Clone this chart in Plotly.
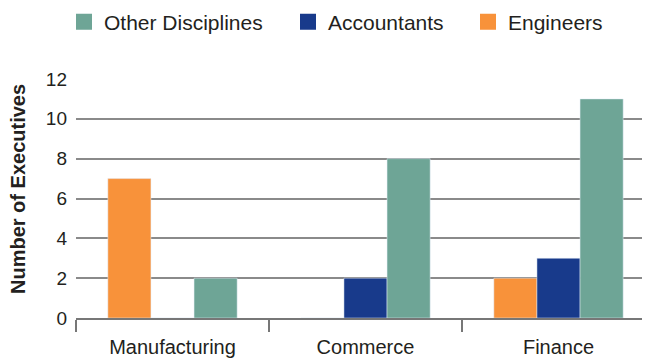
import plotly.graph_objects as go

categories = ["Manufacturing", "Commerce", "Finance"]
engineers = [7, 0, 2]
accountants = [0, 2, 3]
other = [2, 8, 11]
y_ticks = [0, 2, 4, 6, 8, 10, 12]

FONT = "Liberation Sans, Arial, sans-serif"
TXT = "#231f20"
C_ENG, C_ACC, C_OTH = "#F8923A", "#183A8B", "#6EA596"

fig = go.Figure()
series = [("Engineers", engineers, C_ENG, "legend3"),
          ("Accountants", accountants, C_ACC, "legend2"),
          ("Other Disciplines", other, C_OTH, "legend")]
for name, vals, col, lg in series:
    fig.add_trace(go.Bar(name=name, x=categories, y=vals, marker_color=col,
                         showlegend=False, legendgroup=name))
for name, vals, col, lg in series:
    # legend swatch only (larger square than the default bar swatch)
    fig.add_trace(go.Scatter(name=name, x=[None], y=[None], mode="markers",
                             marker=dict(symbol="square", size=16, color=col),
                             legend=lg, legendgroup=name, hoverinfo="skip"))

FW, FH = 650, 361
O = 8  # page body offset
L = 76 - O
T = 79 - O
B = FH - (318 - O)
R = 3
W = FW - L - R
H = FH - T - B

def leg(px):
    return dict(orientation="h", xref="container", yref="container",
                x=(px - O) / FW, xanchor="left", y=1 - (22 - O) / FH,
                yanchor="middle", font=dict(size=21, color=TXT, family=FONT),
                bgcolor="rgba(0,0,0,0)")

fig.update_layout(
    width=FW, height=FH,
    margin=dict(l=L, r=R, t=T, b=B, autoexpand=False),
    paper_bgcolor="white", plot_bgcolor="white",
    barmode="group", bargap=0.33, bargroupgap=0,
    font=dict(family=FONT, color=TXT, size=19),
    showlegend=True,
    legend=leg(64), legend2=leg(288), legend3=leg(468),
)
fig.update_xaxes(
    showgrid=False, showline=True, linecolor="#777", linewidth=1.5,
    ticks="outside", tickson="boundaries", ticklen=12, tickcolor="#777", tickwidth=1.5,
    tickfont=dict(size=20, color=TXT), automargin=False, ticklabelstandoff=10,
)
fig.update_yaxes(
    range=[0, 12], tickvals=y_ticks, showgrid=True, gridcolor="#8a8a8a", gridwidth=1.5,
    showline=False, zeroline=False, ticks="", tickfont=dict(size=19, color=TXT),
    ticklabelstandoff=8, automargin=False,
)
fig.add_annotation(
    text="<b>Number of Executives</b>", textangle=-90, showarrow=False,
    xref="paper", yref="paper", x=(18 - O - L) / W, y=(FH - B - (189 - O)) / H,
    xanchor="center", yanchor="middle", font=dict(size=20, color=TXT, family=FONT),
)

fig.write_html("out.html")
